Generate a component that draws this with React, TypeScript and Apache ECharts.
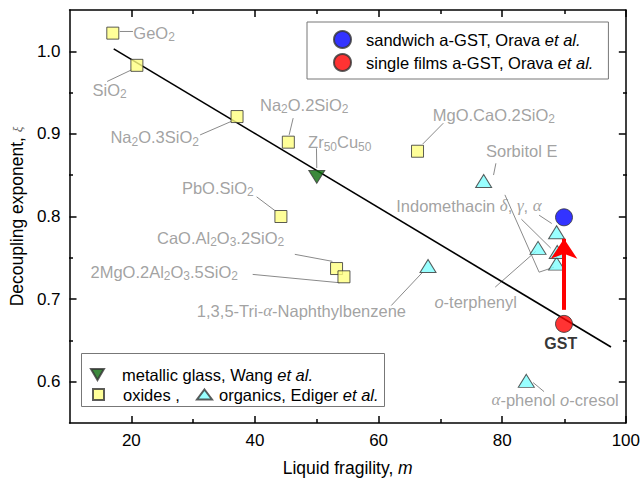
import React, { useEffect, useRef } from 'react';
import * as echarts from 'echarts';

const SANS = '"Liberation Sans", Arial, Helvetica, sans-serif';
const SERIF = '"Liberation Serif", "Times New Roman", serif';
const GREY = '#8a8a8a';
const FS = 16.5;
const TICK_FS = 17;
const TITLE_FS = 17.5;

// axis ticks
const xMajorTicks = [20, 40, 60, 80, 100];
const xMinorTicks = [30, 50, 70, 90];
const yMajorTicks = [0.6, 0.7, 0.8, 0.9, 1.0];
const yMinorTicks = [0.65, 0.75, 0.85, 0.95];

// oxide glasses
const oxideNames = ['GeO2', 'SiO2', 'Na2O.3SiO2', 'Na2O.2SiO2', 'MgO.CaO.2SiO2', 'PbO.SiO2', 'CaO.Al2O3.2SiO2', '2MgO.2Al2O3.5SiO2'];
const oxideFragility = [17.0, 20.9, 37.1, 45.4, 66.3, 44.2, 53.2, 54.4];
const oxideXi = [1.022, 0.983, 0.921, 0.89, 0.879, 0.8, 0.737, 0.727];

// organic glass formers (Indomethacin δ, γ, α are the three points near m = 89)
const organicNames = ['Sorbitol E', '1,3,5-Tri-α-Naphthylbenzene', 'o-terphenyl', 'Indomethacin δ', 'Indomethacin γ', 'Indomethacin α', 'α-phenol o-cresol'];
const organicFragility = [77.0, 68.0, 85.8, 88.8, 88.9, 88.8, 83.9];
const organicXi = [0.843, 0.74, 0.762, 0.743, 0.757, 0.781, 0.601];

// metallic glass
const metalNames = ['Zr50Cu50'];
const metalFragility = [50.0];
const metalXi = [0.848];

// GST films
const gstFragility = 90;
const sandwichXi = 0.799;
const singleFilmXi = 0.67;
const arrowFromXi = 0.687;
const arrowHeadXi = 0.773;

// linear trend
const fitFragility = [17.15, 97.6];
const fitXi = [1.003, 0.642];

// annotation texts (rich markup) and their anchors: left edge, vertical middle
function chem(name: string): string {
  // digits that follow a letter are written as subscripts
  let out = '';
  let buf = '';
  let i = 0;
  while (i < name.length) {
    const c = name[i];
    if (/\d/.test(c) && i > 0 && /[A-Za-z]/.test(name[i - 1])) {
      let j = i;
      while (j < name.length && /\d/.test(name[j])) j++;
      if (buf) out += `{r|${buf}}`;
      buf = '';
      out += `{s|${name.slice(i, j)}}`;
      i = j;
    } else {
      buf += c;
      i++;
    }
  }
  if (buf) out += `{r|${buf}}`;
  return out;
}

const annotationTexts = [
  ...oxideNames.map(chem),
  ...metalNames.map(chem),
  '{r|Sorbitol E}',
  '{r|1,3,5-Tri-}{g|α}{r|-Naphthylbenzene}',
  '{r|Indomethacin }{g|δ}{r|, }{g|γ}{r|, }{g|α}',
  '{o|o}{r|-terphenyl}',
  '{g|α}{r|-phenol }{o|o}{r|-cresol}',
  '{b|GST}',
];
const annotationFragility = [20.32, 13.71, 16.61, 40.81, 68.76, 28.18, 24.15, 13.39, 48.6, 77.37, 30.6, 62.85, 69.03, 78.27, 89.47];
const annotationXi = [1.0227, 0.9535, 0.8957, 0.9352, 0.923, 0.835, 0.7742, 0.7329, 0.8897, 0.8793, 0.6861, 0.8128, 0.6965, 0.578, 0.6457];

// leader lines from annotations to their points
const leaderPaths: number[][][] = [
  [[18.13, 1.024], [20.26, 1.024]],
  [[20.11, 0.9778], [16.08, 0.9635]],
  [[36.5, 0.9162], [31.13, 0.8988]],
  [[46.18, 0.9191], [45.53, 0.8988]],
  [[70.48, 0.913], [67.15, 0.8878]],
  [[40.27, 0.8238], [43.5, 0.8056]],
  [[46.45, 0.7542], [52.53, 0.7457]],
  [[39.63, 0.7299], [53.71, 0.7198]],
  [[49.95, 0.8826], [50.0, 0.8587]],
  [[78.98, 0.8644], [78.6, 0.8502]],
  [[67.15, 0.7327], [62.05, 0.6922]],
  [[80.44, 0.8262], [85.97, 0.7326], [88.39, 0.7387]],
  [[83.11, 0.7967], [87.85, 0.7618]],
  [[85.97, 0.8016], [88.02, 0.7915]],
  [[78.87, 0.7145], [85.44, 0.7578]],
  [[85.0, 0.599], [86.77, 0.588]],
];

const richLabel = {
  r: { fontFamily: SANS, fontSize: FS, color: GREY, lineHeight: 22 },
  s: { fontFamily: SANS, fontSize: 12, color: GREY, lineHeight: 13, padding: [9, 0, 0, 0] },
  g: { fontFamily: SERIF, fontStyle: 'italic', fontSize: 17, color: GREY, lineHeight: 22 },
  o: { fontFamily: SANS, fontStyle: 'italic', fontSize: FS, color: GREY, lineHeight: 22 },
  b: { fontFamily: SANS, fontWeight: 'bold', fontSize: 16, color: '#000', lineHeight: 22 },
};

const legendRich = (pad: number) => ({
  n: { fontFamily: SANS, fontSize: FS, color: '#000', padding: [0, 0, 0, pad] },
  i: { fontFamily: SANS, fontSize: FS, color: '#000', fontStyle: 'italic' },
});
const legendFormatter = (name: string) => {
  const k = name.indexOf('et al.');
  if (k < 0) return `{n|${name}}`;
  return `{n|${name.slice(0, k)}}{i|et al.}`;
};

const SANDWICH = 'sandwich a-GST, Orava et al.';
const SINGLE = 'single films a-GST, Orava et al.';
const METAL = 'metallic glass, Wang et al.';
const OXIDES = 'oxides ,';
const ORGANICS = 'organics, Ediger et al.';

const frame = { color: '#000', width: 1.5 };

function majorAxis(position: string, ticks: number[], min: number, max: number, labels: boolean, extra: any = {}) {
  return {
    type: 'value',
    gridIndex: 0,
    position,
    min,
    max,
    axisLine: { show: true, onZero: false, lineStyle: frame },
    axisTick: { show: true, inside: true, length: 7, customValues: ticks, lineStyle: frame },
    axisLabel: labels
      ? { show: true, customValues: ticks, color: '#000', fontSize: TICK_FS, fontFamily: SANS, margin: 9, ...(extra.axisLabel || {}) }
      : { show: false },
    splitLine: { show: false },
    ...extra.rest,
  };
}
function minorAxis(position: string, ticks: number[], min: number, max: number) {
  return {
    type: 'value',
    gridIndex: 1,
    position,
    min,
    max,
    axisLine: { show: false, onZero: false },
    axisTick: { show: true, inside: true, length: 4, customValues: ticks, lineStyle: frame },
    axisLabel: { show: false },
    splitLine: { show: false },
  };
}

const markerBorder = { borderColor: '#333', borderWidth: 1 };

const option: any = {
  animation: false,
  backgroundColor: '#fff',
  grid: [
    { left: 69, right: 16, top: 10, bottom: 59 },
    { left: 69, right: 16, top: 10, bottom: 59 },
  ],
  xAxis: [
    majorAxis('bottom', xMajorTicks, 10, 100, true, {
      rest: {
        name: '{t|Liquid fragility, }{i|m}',
        nameLocation: 'middle',
        nameGap: 36,
        nameTextStyle: {
          rich: {
            t: { fontFamily: SANS, fontSize: TITLE_FS, color: '#000' },
            i: { fontFamily: SANS, fontSize: TITLE_FS, color: '#000', fontStyle: 'italic' },
          },
        },
      },
    }),
    majorAxis('top', xMajorTicks, 10, 100, false),
    minorAxis('bottom', xMinorTicks, 10, 100),
    minorAxis('top', xMinorTicks, 10, 100),
  ],
  yAxis: [
    majorAxis('left', yMajorTicks, 0.55, 1.05, true, {
      axisLabel: { formatter: (v: number) => v.toFixed(1) },
      rest: {
        name: '{t|Decoupling exponent, }{g|ξ}',
        nameLocation: 'middle',
        nameGap: 43,
        nameTextStyle: {
          rich: {
            t: { fontFamily: SANS, fontSize: TITLE_FS, color: '#000' },
            g: { fontFamily: SERIF, fontSize: 13, color: '#555', fontStyle: 'italic' },
          },
        },
      },
    }),
    majorAxis('right', yMajorTicks, 0.55, 1.05, false),
    minorAxis('left', yMinorTicks, 0.55, 1.05),
    minorAxis('right', yMinorTicks, 0.55, 1.05),
  ],
  legend: [
    {
      data: [SANDWICH, SINGLE],
      orient: 'vertical',
      left: 307,
      top: 22,
      padding: [8, 15, 7, 26],
      itemWidth: 17,
      itemHeight: 17,
      itemGap: 4,
      borderColor: '#777',
      borderWidth: 1,
      backgroundColor: '#fff',
      selectedMode: false,
      formatter: legendFormatter,
      textStyle: { rich: legendRich(10) },
    },
    {
      data: [METAL],
      left: 90,
      top: 366,
      padding: 0,
      itemWidth: 15,
      itemHeight: 11,
      selectedMode: false,
      formatter: legendFormatter,
      textStyle: { rich: legendRich(12) },
    },
    {
      data: [OXIDES],
      left: 92,
      top: 386,
      padding: 0,
      itemWidth: 11,
      itemHeight: 11,
      selectedMode: false,
      formatter: legendFormatter,
      textStyle: { rich: legendRich(14) },
    },
    {
      data: [ORGANICS],
      left: 196,
      top: 386,
      padding: 0,
      itemWidth: 15,
      itemHeight: 10,
      selectedMode: false,
      formatter: legendFormatter,
      textStyle: { rich: legendRich(2) },
    },
  ],
  graphic: [
    {
      type: 'rect',
      z: 3,
      shape: { x: 81.5, y: 353.5, width: 303, height: 53 },
      style: { fill: '#fff', stroke: '#777', lineWidth: 1 },
      silent: true,
    },
  ],
  series: [
    {
      name: 'fit',
      type: 'line',
      data: fitFragility.map((m, i) => [m, fitXi[i]]),
      symbol: 'none',
      lineStyle: { color: '#000', width: 1.6 },
      z: 1,
      silent: true,
    },
    {
      name: 'leaders',
      type: 'lines',
      coordinateSystem: 'cartesian2d',
      polyline: true,
      data: leaderPaths.map((coords) => ({ coords })),
      lineStyle: { color: GREY, width: 1, opacity: 1 },
      z: 1,
      silent: true,
    },
    {
      name: OXIDES,
      type: 'scatter',
      data: oxideFragility.map((m, i) => [m, oxideXi[i]]),
      symbol: 'rect',
      symbolSize: 12,
      itemStyle: { color: '#FFFF80', ...markerBorder },
      z: 3,
    },
    {
      name: ORGANICS,
      type: 'scatter',
      data: organicFragility.map((m, i) => [m, organicXi[i]]),
      symbol: 'triangle',
      symbolSize: [16, 13],
      itemStyle: { color: '#80FFFF', ...markerBorder },
      z: 3,
    },
    {
      name: METAL,
      type: 'scatter',
      data: metalFragility.map((m, i) => [m, metalXi[i]]),
      symbol: 'path://M0,0 L20,0 L10,17 Z',
      symbolSize: [16, 13],
      itemStyle: { color: '#0B6B0B', ...markerBorder },
      z: 3,
    },
    {
      name: 'arrow',
      type: 'lines',
      coordinateSystem: 'cartesian2d',
      data: [{ coords: [[gstFragility, arrowFromXi], [gstFragility, arrowHeadXi]] }],
      symbol: ['none', 'arrow'],
      symbolSize: 20,
      lineStyle: { color: '#FF0000', width: 4, opacity: 1 },
      z: 4,
      silent: true,
    },
    {
      name: SANDWICH,
      type: 'scatter',
      data: [[gstFragility, sandwichXi]],
      symbol: 'circle',
      symbolSize: 17,
      itemStyle: { color: '#0000FF', ...markerBorder },
      z: 5,
    },
    {
      name: SINGLE,
      type: 'scatter',
      data: [[gstFragility, singleFilmXi]],
      symbol: 'circle',
      symbolSize: 17,
      itemStyle: { color: '#FF0000', ...markerBorder },
      z: 5,
    },
    {
      name: 'annotations',
      type: 'scatter',
      data: annotationFragility.map((m, i) => ({
        value: [m, annotationXi[i]],
        label: { align: i === annotationFragility.length - 1 ? 'center' : 'left' },
      })),
      symbolSize: 0,
      itemStyle: { color: 'transparent' },
      silent: true,
      z: 6,
      label: {
        show: true,
        position: [0, 0],
        verticalAlign: 'middle',
        formatter: (p: any) => annotationTexts[p.dataIndex],
        rich: richLabel,
      },
    },
  ],
};

export default function App() {
  const ref = useRef<HTMLDivElement>(null);
  useEffect(() => {
    const chart = echarts.init(ref.current!, null, { renderer: 'svg' });
    chart.setOption(option);
    return () => chart.dispose();
  }, []);
  return (
    <div
      ref={ref}
      style={{ position: 'fixed', left: 0, top: 0, width: 643, height: 482, background: '#fff' }}
    />
  );
}
